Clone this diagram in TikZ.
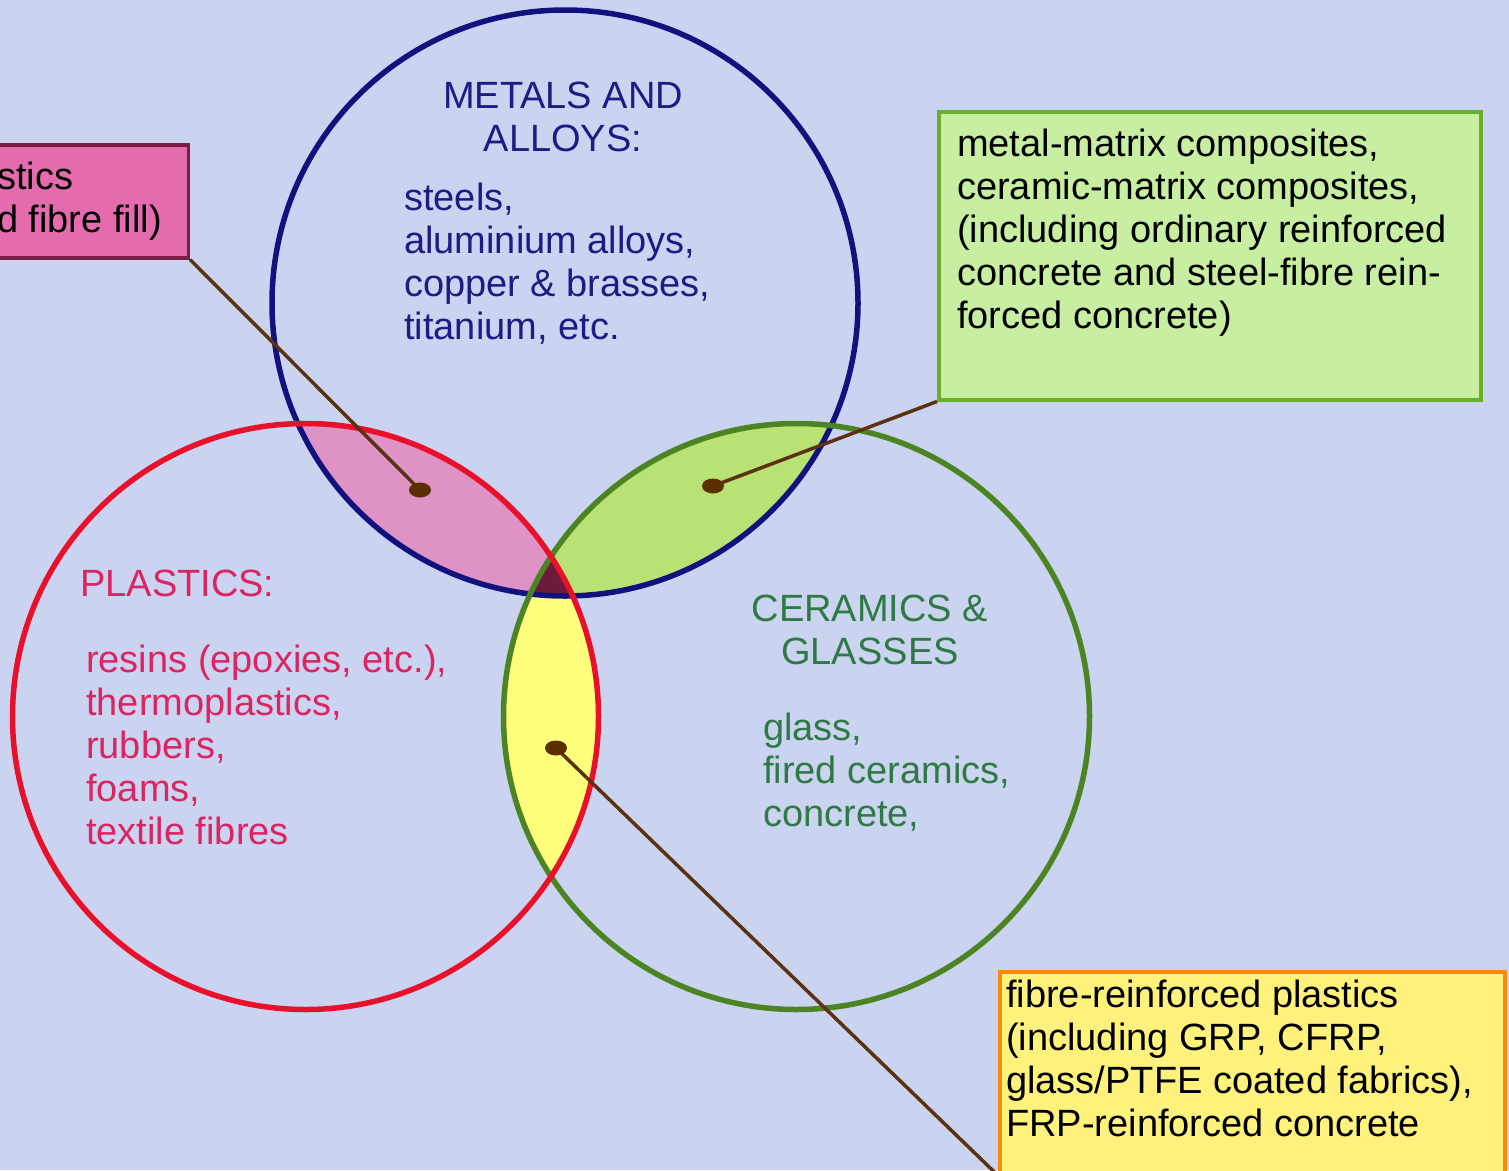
\documentclass[tikz,border=0pt]{standalone}
\usepackage{fontspec}
\setmainfont{Liberation Sans}
\usetikzlibrary{shapes.geometric}
\definecolor{bgc}{HTML}{CAD4F0}
\definecolor{navyc}{HTML}{12127E}
\definecolor{redc}{HTML}{E8102A}
\definecolor{grnc}{HTML}{4C8424}
\definecolor{pinkfill}{HTML}{DE92C6}
\definecolor{grnfill}{HTML}{B8E274}
\definecolor{yelfill}{HTML}{FFFF7C}
\definecolor{trifill}{HTML}{6E1A3C}
\definecolor{pboxfill}{HTML}{E46CAE}
\definecolor{pboxdraw}{HTML}{7C1C44}
\definecolor{gboxfill}{HTML}{C8EEA2}
\definecolor{gboxdraw}{HTML}{6AAE2E}
\definecolor{yboxfill}{HTML}{FFF27C}
\definecolor{yboxdraw}{HTML}{FF8A00}
\definecolor{connc}{HTML}{5C3010}
\definecolor{dotc}{HTML}{5A2E00}
\definecolor{metc}{HTML}{1C1C84}
\definecolor{plac}{HTML}{DC2462}
\definecolor{cerc}{HTML}{2F7A44}
\begin{document}
\begin{tikzpicture}[x=1pt,y=-1pt,
  lbl/.style={inner sep=0pt, align=left, font=\fontsize{38}{43}\selectfont},
  ring/.style={line width=5.5pt},
  box/.style={inner sep=0pt, line width=3.5pt},
  conn/.style={draw=connc, line width=3.5pt},
  dot/.style={ellipse, fill=dotc, minimum width=22pt, minimum height=15pt, inner sep=0pt}]
\useasboundingbox (0,0) rectangle (1509,1170);
\clip (0,0) rectangle (1509,1170);
\fill[bgc] (0,0) rectangle (1509,1170);
\coordinate (cm) at (565,303);
\coordinate (cp) at (305.5,716.5);
\coordinate (cc) at (796.5,716.5);
% overlaps
\begin{scope}
  \clip (cm) circle (293pt);
  \fill[pinkfill] (cp) circle (293pt);
  \fill[grnfill] (cc) circle (293pt);
\end{scope}
\begin{scope}
  \clip (cp) circle (293pt);
  \fill[yelfill] (cc) circle (293pt);
\end{scope}
\begin{scope}
  \clip (cm) circle (293pt);
  \clip (cp) circle (293pt);
  \fill[trifill] (cc) circle (293pt);
\end{scope}
% rings
\draw[ring, navyc] (cm) circle (293pt);
\draw[ring, grnc] (cc) circle (293pt);
\draw[ring, redc] (cp) circle (293pt);
% circle texts (base anchor = baseline of the last line)
\node[lbl, align=center, text=metc, anchor=base] (mtitle) at (563,151) {METALS AND\\ALLOYS:};
\node[lbl, text=metc, anchor=base west] (mlist) at (404,339) {steels,\\aluminium alloys,\\copper \& brasses,\\titanium, etc.};
\node[lbl, text=plac, anchor=base west] (ptitle) at (80,596) {PLASTICS:};
\node[lbl, text=plac, anchor=base west] (plist) at (86,844) {resins (epoxies, etc.),\\thermoplastics,\\rubbers,\\foams,\\textile fibres};
\node[lbl, align=center, text=cerc, anchor=base] (ctitle) at (870,664) {CERAMICS \&\\GLASSES};
\node[lbl, text=cerc, anchor=base west] (clist) at (763,826) {glass,\\fired ceramics,\\concrete,};
% boxes
\node[box, draw=pboxdraw, fill=pboxfill, minimum width=230pt, minimum height=113pt, anchor=north east] (pbox) at (190,143) {};
\node[box, draw=gboxdraw, fill=gboxfill, minimum width=542pt, minimum height=288pt, anchor=north west] (gbox) at (937,110) {};
\node[box, draw=yboxdraw, fill=yboxfill, minimum width=505pt, minimum height=202pt, anchor=north west] (ybox) at (998,970) {};
\node[lbl, anchor=base west] (ptext) at (-3,232) {stics\\d fibre fill)};
\node[lbl, anchor=base west] (gtext) at (957,328) {metal-matrix composites,\\ceramic-matrix composites,\\(including ordinary reinforced\\concrete and steel-fibre rein-\\forced concrete)};
\node[lbl, anchor=base west] (ytext) at (1006,1136) {fibre-reinforced plastics\\(including GRP, CFRP,\\glass/PTFE coated fabrics),\\FRP-reinforced concrete};
% dots and connectors
\coordinate (d1c) at (420,490);
\coordinate (d2c) at (713,486);
\coordinate (d3c) at (556,748);
\draw[conn] (pbox.south east) -- (d1c);
\draw[conn] (gbox.south west) -- (d2c);
\draw[conn] (ybox.south west) -- (d3c);
\node[dot] (d1) at (d1c) {};
\node[dot] (d2) at (d2c) {};
\node[dot] (d3) at (d3c) {};
\end{tikzpicture}
\end{document}
